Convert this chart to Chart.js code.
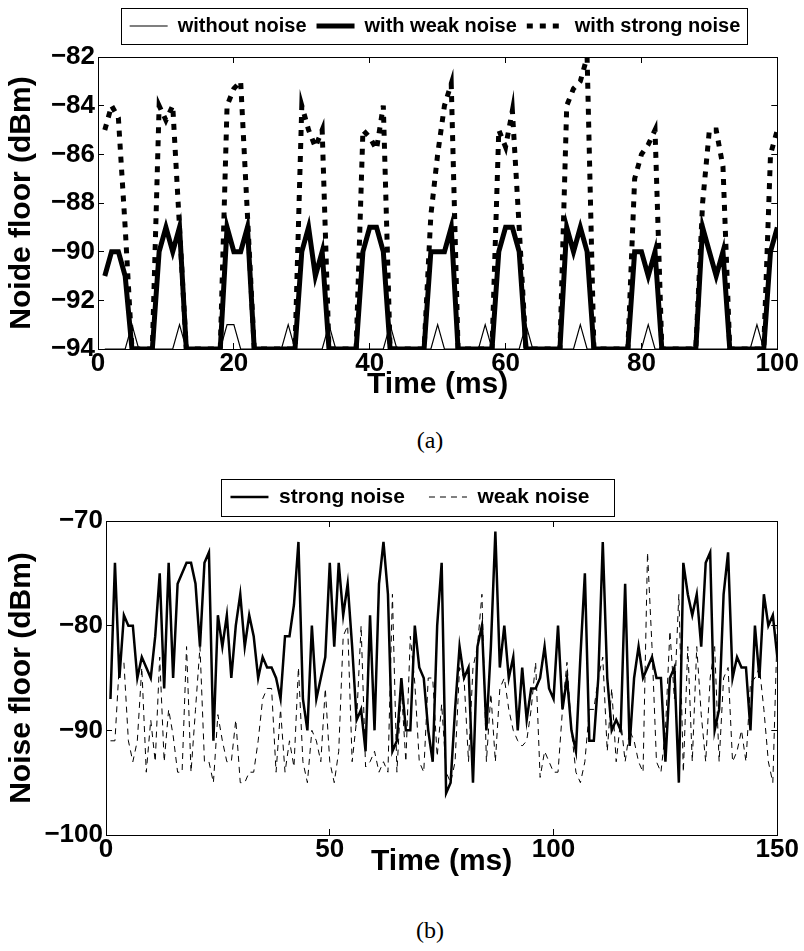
<!DOCTYPE html>
<html>
<head>
<meta charset="utf-8">
<title>Noise floor</title>
<script src="https://cdn.jsdelivr.net/npm/chart.js@4.4.1/dist/chart.umd.min.js"></script>
<style>
  html, body { margin: 0; padding: 0; background: #fff; }
  #page { position: relative; width: 804px; height: 951px; overflow: hidden; }
  .panel { position: absolute; left: 0; width: 804px; }
  #panelA { top: 0; height: 403px; }
  #panelB { top: 440px; height: 440px; }
  .caption { position: absolute; left: 0; width: 860px; text-align: center;
             font-family: "Liberation Serif", "Times New Roman", serif; font-size: 24px; line-height: 28px; }
</style>
</head>
<body>
<div id="page">
  <div class="panel" id="panelA"><canvas id="chartA"></canvas></div>
  <div class="caption" style="top: 426px;">(a)</div>
  <div class="panel" id="panelB"><canvas id="chartB"></canvas></div>
  <div class="caption" style="top: 916px;">(b)</div>
</div>
<script>
// ---- (a) noise floor, 1 ms samples ----
const timeA = [
  1, 2, 3, 4, 5, 6, 7, 8, 9, 10, 11, 12, 13, 14, 15, 16, 17, 18, 19, 20,
  21, 22, 23, 24, 25, 26, 27, 28, 29, 30, 31, 32, 33, 34, 35, 36, 37, 38, 39, 40,
  41, 42, 43, 44, 45, 46, 47, 48, 49, 50, 51, 52, 53, 54, 55, 56, 57, 58, 59, 60,
  61, 62, 63, 64, 65, 66, 67, 68, 69, 70, 71, 72, 73, 74, 75, 76, 77, 78, 79, 80,
  81, 82, 83, 84, 85, 86, 87, 88, 89, 90, 91, 92, 93, 94, 95, 96, 97, 98, 99, 100
];
const withoutNoise = [
  -94, -94, -94, -94, -93, -94, -94, -94, -94, -94, -94, -93, -94, -94, -94, -94, -94, -94, -93, -93,
  -94, -94, -94, -94, -94, -94, -94, -93, -94, -94, -94, -94, -94, -93, -94, -94, -94, -94, -94, -94,
  -94, -94, -93, -94, -94, -94, -94, -94, -94, -93, -94, -94, -94, -94, -94, -94, -93, -94, -94, -94,
  -94, -94, -93, -94, -94, -94, -94, -94, -94, -94, -93, -94, -94, -94, -94, -94, -94, -94, -94, -94,
  -93, -94, -94, -94, -94, -94, -94, -94, -94, -94, -94, -94, -94, -94, -94, -94, -93, -94, -94, -94
];
const withWeakNoise = [
  -91, -90, -90, -91, -94, -94, -94, -94, -90, -89, -90, -89, -94, -94, -94, -94, -94, -94, -89, -90,
  -90, -89, -94, -94, -94, -94, -94, -94, -94, -90, -89, -91, -90, -94, -94, -94, -94, -94, -90, -89,
  -89, -90, -94, -94, -94, -94, -94, -94, -90, -90, -90, -89, -94, -94, -94, -94, -94, -94, -90, -89,
  -89, -90, -94, -94, -94, -94, -94, -94, -89, -90, -89, -90, -94, -94, -94, -94, -94, -94, -90, -90,
  -91, -90, -94, -94, -94, -94, -94, -94, -89, -90, -91, -90, -94, -94, -94, -94, -94, -94, -90, -89
];
const withStrongNoise = [
  -85, -84, -84.5, -89, -94, -94, -94, -94, -84, -84.6, -84, -89, -94, -94, -94, -94, -94, -94, -84, -83.3,
  -83, -88.5, -94, -94, -94, -94, -94, -94, -94, -84, -85, -85.7, -85, -94, -94, -94, -94, -94, -85, -85.3,
  -85.8, -84, -94, -94, -94, -94, -94, -94, -88.5, -86, -84, -83.1, -94, -94, -94, -94, -94, -94, -85, -85.7,
  -84.2, -89, -94, -94, -94, -94, -94, -94, -84, -83.3, -83, -82, -94, -94, -94, -94, -94, -94, -87, -86,
  -85.6, -85, -94, -94, -94, -94, -94, -94, -88, -85, -85, -86.5, -94, -94, -94, -94, -94, -94, -86, -85
];
const ticksA = { xMin: 0, xMax: 100, xStep: 20, yMin: -94, yMax: -82, yStep: 2 };

// ---- (b) noise floor, 150 ms ----
const timeB = [
  1, 2, 3, 4, 5, 6, 7, 8, 9, 10, 11, 12, 13, 14, 15, 16, 17, 18, 19, 20,
  21, 22, 23, 24, 25, 26, 27, 28, 29, 30, 31, 32, 33, 34, 35, 36, 37, 38, 39, 40,
  41, 42, 43, 44, 45, 46, 47, 48, 49, 50, 51, 52, 53, 54, 55, 56, 57, 58, 59, 60,
  61, 62, 63, 64, 65, 66, 67, 68, 69, 70, 71, 72, 73, 74, 75, 76, 77, 78, 79, 80,
  81, 82, 83, 84, 85, 86, 87, 88, 89, 90, 91, 92, 93, 94, 95, 96, 97, 98, 99, 100,
  101, 102, 103, 104, 105, 106, 107, 108, 109, 110, 111, 112, 113, 114, 115, 116, 117, 118, 119, 120,
  121, 122, 123, 124, 125, 126, 127, 128, 129, 130, 131, 132, 133, 134, 135, 136, 137, 138, 139, 140,
  141, 142, 143, 144, 145, 146, 147, 148, 149, 150
];
const strongNoise = [
  -87, -74, -85, -79, -80, -80, -85, -83, -84, -85, -81, -75, -86, -74, -85, -76, -75, -74, -74, -76,
  -82, -74, -73, -91, -79, -82, -79, -85, -80, -77, -82, -79, -81, -85, -83, -84, -84, -85, -87, -81,
  -81, -78, -72, -87, -90, -80, -87, -85, -83, -74, -82, -74, -79, -76, -82, -89, -88, -92, -79, -90,
  -76, -72, -77, -92, -91, -85, -90, -90, -80, -84, -85, -90, -93, -80, -74, -96, -95, -88, -82, -85,
  -84, -95, -82, -80, -90, -82, -71, -84, -80, -85, -83, -90, -84, -89, -86, -86, -85, -82, -86, -87,
  -80, -88, -85, -90, -92, -83, -75, -91, -91, -85, -72, -85, -90, -89, -90, -76, -91.5, -85, -82, -85,
  -84, -83, -85, -85, -93, -85, -84, -95, -74, -77, -79, -77, -82, -74, -73, -90, -88, -77, -73, -85,
  -83, -84, -84, -90, -80, -85, -77, -80, -79, -83
];
const weakNoise = [
  -91, -91, -83.5, -83.5, -91, -93, -91, -84, -94, -89, -93, -83, -93, -88, -90.5, -94, -94, -82, -94, -88,
  -82, -93, -93, -95, -88.5, -91, -93, -93, -89, -95, -95, -94, -94, -91, -87, -86, -86, -94, -88, -94,
  -91, -93.5, -84, -93, -95, -90, -91, -93, -86, -93, -95, -92, -81, -80, -93, -89, -80, -93.5, -93, -92,
  -94, -93, -94, -77, -94, -86, -93, -81, -85.5, -93, -94, -85, -85, -92.5, -87.5, -94, -95, -93, -84, -85,
  -93, -84, -82, -77, -93, -86.5, -93, -86, -85, -88, -90, -91, -91.5, -91, -88, -83.5, -94.5, -92, -93, -94,
  -94, -88, -83.5, -90, -94, -95, -93, -88, -88, -85, -83, -92, -86, -93, -89, -93, -90, -91, -93, -94,
  -73, -82, -93, -94, -90, -80.5, -87, -77, -94, -82, -93, -82, -88.5, -93, -85, -82, -93, -85, -84, -93,
  -92, -90, -93, -85.5, -85, -84, -88, -93, -95, -80
];
const ticksB = { xMin: 0, xMax: 150, xStep: 50, yMin: -100, yMax: -70, yStep: 10 };

const FONT = "'Liberation Sans', Arial, Helvetica, sans-serif";
Chart.defaults.font.family = FONT;
Chart.defaults.color = '#000';
Chart.defaults.animation = false;

// legend gets moved to where matlab put it, then framed
const legendFrame = {
    id: 'legendFrame',
    afterLayout(chart, args, opts) {
        const lg = chart.legend;
        if (!lg || !lg.lineWidths) return;
        const pad = lg.options.labels.padding;
        const dx = opts.centerX - (lg.left + lg.right) / 2;
        const dy = opts.centerY - (lg.top + pad + opts.fontSize / 2);
        lg.left += dx; lg.right += dx;
        lg.top += dy; lg.bottom += dy;
    },
    afterDraw(chart, args, opts) {
        const lg = chart.legend;
        if (!lg || !lg.lineWidths) return;
        const pad = lg.options.labels.padding;
        const span = lg.lineWidths[0] - pad;
        const ctx = chart.ctx;
        ctx.save();
        ctx.strokeStyle = '#000';
        ctx.lineWidth = 1;
        ctx.setLineDash([]);
        ctx.strokeRect(Math.round(opts.centerX - span / 2 - opts.padL) + 0.5,
                       Math.round(opts.centerY - opts.height / 2) + 0.5,
                       Math.round(span + opts.padL + opts.padR),
                       Math.round(opts.height));
        ctx.restore();
    }
};

const minusSign = v => String(v).replace('-', '\u2212');

function boxScales(t, s) {
    const grid = { drawOnChartArea: false, tickLength: -6, color: '#000', lineWidth: 1 };
    const border = { color: '#000', width: 1 };
    const tickFont = { size: s.tickSize, weight: 'bold' };
    const titleFont = { size: s.titleSize, weight: 'bold' };
    return {
        x: {
            type: 'linear', position: 'bottom', min: t.xMin, max: t.xMax,
            afterFit: scale => { scale.height = s.xAxisHeight; },
            ticks: { stepSize: t.xStep, padding: 5, font: tickFont, maxRotation: 0, autoSkip: false },
            grid: grid, border: border,
            title: { display: true, text: 'Time (ms)', font: titleFont, padding: 0 }
        },
        xTop: {
            type: 'linear', position: 'top', min: t.xMin, max: t.xMax,
            afterFit: scale => { scale.height = 0; },
            ticks: { stepSize: t.xStep, display: false },
            grid: grid, border: border
        },
        y: {
            type: 'linear', position: 'left', min: t.yMin, max: t.yMax,
            afterFit: scale => { scale.width = s.yAxisWidth; },
            ticks: { stepSize: t.yStep, padding: 9, font: tickFont, callback: minusSign },
            grid: grid, border: border,
            title: { display: true, text: s.yTitle, font: titleFont, padding: { top: 4, bottom: 0 } }
        },
        yRight: {
            type: 'linear', position: 'right', min: t.yMin, max: t.yMax,
            afterFit: scale => { scale.width = 0; },
            ticks: { stepSize: t.yStep, display: false },
            grid: grid, border: border
        }
    };
}

function series(label, xs, ys, width, dash) {
    return {
        label: label,
        data: xs.map((x, i) => ({ x: x, y: ys[i] })),
        borderColor: '#000',
        backgroundColor: '#000',
        borderWidth: width,
        borderDash: dash,
        pointRadius: 0,
        pointStyle: 'line',
        tension: 0,
        xAxisID: 'x',
        yAxisID: 'y'
    };
}

// point-style labels lose the dash pattern, so copy it back from the dataset
function dashedLabels(chart) {
    const items = Chart.defaults.plugins.legend.labels.generateLabels(chart);
    items.forEach(item => {
        const ds = chart.data.datasets[item.datasetIndex];
        item.lineDash = ds.borderDash;
        item.lineWidth = ds.borderWidth;
        item.strokeStyle = ds.borderColor;
    });
    return items;
}

function legendOptions(fontSize, padding) {
    return {
        display: true,
        position: 'top',
        fullSize: false,
        labels: {
            usePointStyle: true,
            pointStyle: 'line',
            pointStyleWidth: 38,
            padding: padding,
            color: '#000',
            font: { size: fontSize, weight: 'bold' },
            generateLabels: dashedLabels
        }
    };
}

// (a)
new Chart(document.getElementById('chartA'), {
    type: 'line',
    data: {
        datasets: [
            series('without noise', timeA, withoutNoise, 1.2, []),
            series('with weak noise', timeA, withWeakNoise, 5, []),
            series('with strong noise', timeA, withStrongNoise, 5, [6, 7])
        ]
    },
    options: {
        responsive: true,
        maintainAspectRatio: false,
        layout: { padding: { top: 17, left: 0, right: 24, bottom: 0 } },
        scales: boxScales(ticksA, { tickSize: 26, titleSize: 30, xAxisHeight: 54, yAxisWidth: 98, yTitle: 'Noide floor (dBm)' }),
        plugins: {
            legend: legendOptions(20, 10),
            tooltip: { enabled: false },
            legendFrame: { centerX: 435, centerY: 26, fontSize: 20, padL: 9, padR: 6, height: 36 }
        }
    },
    plugins: [legendFrame]
});

// (b)
new Chart(document.getElementById('chartB'), {
    type: 'line',
    data: {
        datasets: [
            series('strong noise', timeB, strongNoise, 2.5, []),
            series('weak noise', timeB, weakNoise, 1, [6, 5])
        ]
    },
    options: {
        responsive: true,
        maintainAspectRatio: false,
        layout: { padding: { top: 26, left: 0, right: 25, bottom: 0 } },
        scales: boxScales(ticksB, { tickSize: 26, titleSize: 30, xAxisHeight: 45, yAxisWidth: 106, yTitle: 'Noise floor (dBm)' }),
        plugins: {
            legend: legendOptions(21, 24),
            tooltip: { enabled: false },
            legendFrame: { centerX: 410, centerY: 57, fontSize: 21, padL: 9, padR: 25, height: 37 }
        }
    },
    plugins: [legendFrame]
});
</script>
</body>
</html>
